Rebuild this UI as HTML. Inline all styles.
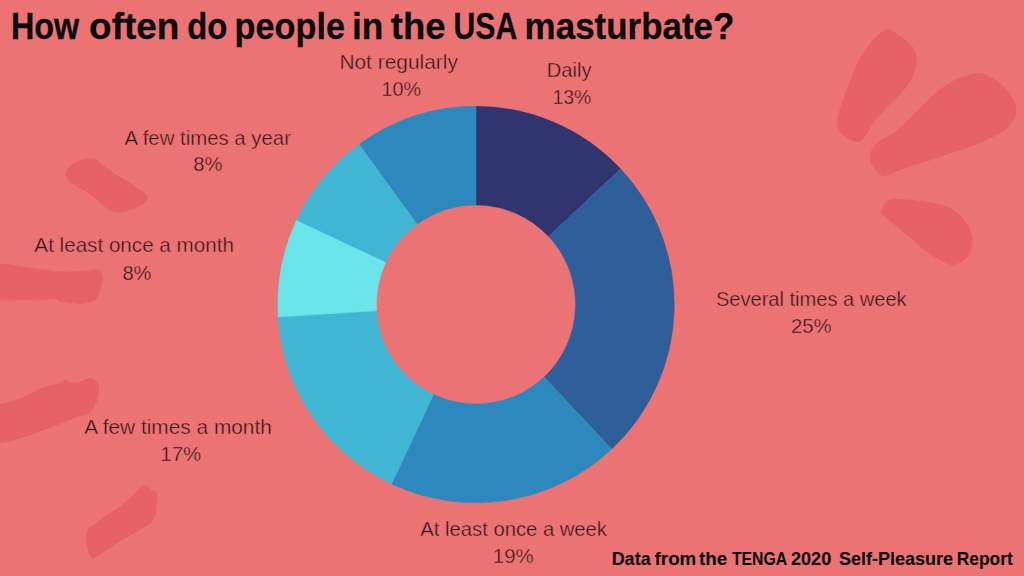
<!DOCTYPE html>
<html><head><meta charset="utf-8"><title>How often do people in the USA masturbate?</title>
<style>html,body{margin:0;padding:0;background:#ec7373;overflow:hidden;}svg{display:block;}text{font-family:"Liberation Sans",sans-serif;}</style>
</head><body>
<svg width="1024" height="576" viewBox="0 0 1024 576">
<rect width="1024" height="576" fill="#ec7373"/>
<path d="M65.3,174.3 C65.1,172.5 65.9,171.2 67.2,169.4 C68.5,167.6 70.8,165.0 73.2,163.4 C75.6,161.8 78.7,160.5 81.7,159.7 C84.8,158.8 89.1,158.3 91.5,158.3 C93.9,158.3 94.3,158.4 96.3,159.7 C98.3,160.9 100.3,163.4 103.6,165.8 C106.8,168.2 111.8,171.7 115.8,174.3 C119.8,176.9 123.9,179.0 127.9,181.6 C132.0,184.2 136.8,187.7 140.1,190.1 C143.3,192.5 146.4,194.4 147.4,196.2 C148.4,198.0 147.3,199.4 146.1,201.0 C144.9,202.6 143.1,204.3 140.1,205.9 C137.1,207.5 132.0,209.7 127.9,210.8 C123.9,211.9 119.8,213.4 115.8,212.6 C111.8,211.8 107.6,208.8 103.6,205.9 C99.5,203.0 95.5,198.0 91.5,195.0 C87.5,192.0 83.1,190.1 79.3,187.7 C75.5,185.3 70.7,182.6 68.4,180.4 C66.1,178.2 65.5,176.1 65.3,174.3Z" fill="#e66168"/>
<path d="M-30.0,264.0 C-25.3,257.9 -8.2,264.6 -2.0,264.6 C4.2,264.6 2.8,263.8 7.0,264.1 C11.2,264.4 16.8,265.4 23.4,266.4 C30.0,267.4 39.1,269.0 46.9,269.9 C54.7,270.8 63.5,271.6 70.3,271.7 C77.1,271.8 83.4,270.9 87.9,270.5 C92.4,270.1 95.2,269.0 97.3,269.3 C99.4,269.6 99.9,270.8 100.8,272.3 C101.7,273.8 102.5,275.4 102.5,278.1 C102.5,280.8 101.9,285.2 100.8,288.7 C99.7,292.2 98.2,296.9 96.1,299.2 C93.9,301.5 90.6,301.9 87.9,302.7 C85.2,303.5 82.6,303.9 79.7,303.9 C76.8,303.9 73.8,303.1 70.3,302.7 C66.8,302.3 60.9,302.2 58.6,301.6 C56.3,301.0 60.2,299.5 56.3,299.2 C52.4,298.9 42.6,299.6 35.2,299.8 C27.8,300.0 17.9,300.3 11.7,300.4 C5.5,300.5 5.0,300.3 -2.0,300.4 C-8.9,300.5 -25.3,307.1 -30.0,301.0 C-34.7,294.9 -34.7,270.1 -30.0,264.0Z" fill="#e66168"/>
<path d="M-30.0,412.0 C-25.3,404.1 -9.3,406.6 -2.0,404.7 C5.3,402.8 8.9,402.2 13.9,400.6 C18.9,399.0 23.2,397.1 27.8,395.0 C32.4,392.9 36.6,390.1 41.7,388.1 C46.8,386.1 54.4,384.6 58.3,383.2 C62.2,381.8 63.4,379.9 65.3,379.7 C67.2,379.5 67.3,381.3 69.4,381.8 C71.5,382.3 74.5,383.1 77.8,382.5 C81.0,381.9 85.9,378.7 88.9,378.3 C91.9,377.9 94.1,378.8 95.8,380.4 C97.5,382.0 98.6,385.2 98.9,388.1 C99.2,391.0 98.7,394.8 97.9,397.8 C97.2,400.8 95.9,403.6 94.4,406.1 C92.9,408.7 91.9,411.2 88.9,413.1 C85.9,415.0 80.8,415.6 76.4,417.2 C72.0,418.8 68.3,420.5 62.5,422.8 C56.7,425.1 48.7,428.6 41.7,431.1 C34.8,433.7 26.6,436.2 20.8,438.1 C15.0,440.0 10.7,441.3 6.9,442.2 C3.1,443.1 4.1,442.0 -2.0,443.6 C-8.1,445.2 -25.3,457.3 -30.0,452.0 C-34.7,446.7 -34.7,419.9 -30.0,412.0Z" fill="#e66168"/>
<path d="M87.5,529.7 C89.1,527.4 92.2,525.8 95.3,523.4 C98.4,521.0 101.9,518.7 106.3,515.6 C110.7,512.5 117.2,508.3 121.9,504.7 C126.6,501.1 131.3,496.8 134.4,493.8 C137.5,490.8 138.8,488.1 140.6,486.7 C142.4,485.3 143.5,484.7 145.3,485.2 C147.1,485.7 149.7,488.4 151.6,489.8 C153.5,491.2 156.2,491.1 157.0,493.8 C157.8,496.6 156.6,502.7 156.3,506.3 C156.1,509.9 156.6,512.8 155.5,515.6 C154.4,518.5 153.0,520.8 150.0,523.4 C147.0,526.0 142.2,528.4 137.5,531.3 C132.8,534.2 127.1,537.5 121.9,540.6 C116.7,543.7 110.7,547.1 106.3,550.0 C101.9,552.9 97.9,556.8 95.3,557.8 C92.7,558.8 92.0,558.1 90.6,556.3 C89.2,554.5 87.5,550.0 86.7,546.9 C85.9,543.8 85.8,540.4 85.9,537.5 C86.0,534.6 85.9,532.1 87.5,529.7Z" fill="#e66168"/>
<path d="M888.2,29.5 C892.0,29.5 896.1,33.6 899.5,35.8 C902.9,38.0 905.9,40.0 908.5,42.6 C911.1,45.2 914.0,47.9 915.3,51.6 C916.6,55.4 917.0,60.6 916.4,65.1 C915.8,69.6 914.3,74.2 911.9,78.7 C909.5,83.2 905.7,87.7 901.7,92.2 C897.8,96.7 892.7,100.9 888.2,105.8 C883.7,110.7 878.4,116.7 874.6,121.6 C870.8,126.5 868.2,131.7 865.6,135.1 C863.0,138.5 861.5,141.2 858.9,141.9 C856.3,142.7 852.8,141.1 849.8,139.6 C846.8,138.1 842.9,135.8 840.8,132.8 C838.7,129.8 837.4,126.1 837.4,121.6 C837.4,117.1 839.1,111.4 840.8,105.8 C842.5,100.2 845.0,94.5 847.6,87.7 C850.2,80.9 853.6,71.5 856.6,65.1 C859.6,58.7 862.2,54.2 865.6,49.3 C869.0,44.4 873.1,39.1 876.9,35.8 C880.7,32.5 884.4,29.5 888.2,29.5Z" fill="#e66168"/>
<path d="M977.1,73.4 C984.3,73.0 989.4,76.7 994.5,79.5 C999.6,82.3 1004.1,86.4 1007.5,90.4 C1010.9,94.4 1013.8,99.1 1015.1,103.4 C1016.4,107.7 1016.4,112.4 1015.1,116.4 C1013.8,120.4 1010.2,124.3 1007.5,127.2 C1004.8,130.1 1003.1,131.3 998.8,133.8 C994.5,136.3 988.4,139.5 981.5,142.4 C974.6,145.3 965.9,148.2 957.6,151.1 C949.3,154.0 940.6,156.9 931.6,159.8 C922.6,162.7 911.4,165.8 903.4,168.5 C895.4,171.2 889.0,176.5 883.9,176.1 C878.8,175.7 875.4,169.8 873.0,166.3 C870.6,162.9 869.1,159.4 869.8,155.4 C870.5,151.4 873.6,146.0 877.4,142.4 C881.2,138.8 887.1,137.8 892.5,133.8 C897.9,129.8 903.8,124.4 909.9,118.6 C916.0,112.8 922.5,105.2 929.4,99.0 C936.3,92.8 943.1,86.0 951.1,81.7 C959.1,77.4 969.9,73.8 977.1,73.4Z" fill="#e66168"/>
<path d="M888.8,199.8 C893.4,198.1 901.8,199.3 909.1,199.8 C916.4,200.3 926.0,201.8 932.5,203.0 C939.0,204.2 943.7,205.0 948.1,206.9 C952.5,208.8 955.7,211.6 959.1,214.7 C962.5,217.8 966.2,221.7 968.4,225.6 C970.6,229.5 972.0,233.7 972.3,238.1 C972.6,242.5 971.7,248.3 970.0,252.2 C968.3,256.1 965.3,259.5 962.2,261.6 C959.1,263.7 954.9,265.0 951.3,264.7 C947.6,264.4 944.7,262.4 940.3,260.0 C935.9,257.6 929.9,254.5 924.7,250.6 C919.5,246.7 914.6,241.3 909.1,236.6 C903.6,231.9 896.3,226.2 891.9,222.5 C887.5,218.8 884.2,216.8 882.5,214.7 C880.8,212.6 880.7,212.5 881.7,210.0 C882.8,207.5 884.2,201.5 888.8,199.8Z" fill="#e66168"/>
<path d="M476.00,106.25 A198.25,198.25 0 0 1 620.52,168.79 L548.57,236.35 A99.55,99.55 0 0 0 476.00,204.95Z" fill="#31356f" stroke="#31356f" stroke-width="0.5" stroke-linejoin="round"/>
<path d="M620.52,168.79 A198.25,198.25 0 0 1 611.71,449.02 L544.15,377.07 A99.55,99.55 0 0 0 548.57,236.35Z" fill="#2e5f9a" stroke="#2e5f9a" stroke-width="0.5" stroke-linejoin="round"/>
<path d="M611.71,449.02 A198.25,198.25 0 0 1 391.59,483.88 L433.61,394.58 A99.55,99.55 0 0 0 544.15,377.07Z" fill="#2d89bd" stroke="#2d89bd" stroke-width="0.5" stroke-linejoin="round"/>
<path d="M391.59,483.88 A198.25,198.25 0 0 1 278.14,316.95 L376.65,310.75 A99.55,99.55 0 0 0 433.61,394.58Z" fill="#41b6d4" stroke="#41b6d4" stroke-width="0.5" stroke-linejoin="round"/>
<path d="M278.14,316.95 A198.25,198.25 0 0 1 296.62,220.09 L385.92,262.11 A99.55,99.55 0 0 0 376.65,310.75Z" fill="#69e5e9" stroke="#69e5e9" stroke-width="0.5" stroke-linejoin="round"/>
<path d="M296.62,220.09 A198.25,198.25 0 0 1 359.47,144.11 L417.49,223.96 A99.55,99.55 0 0 0 385.92,262.11Z" fill="#41b6d4" stroke="#41b6d4" stroke-width="0.5" stroke-linejoin="round"/>
<path d="M359.47,144.11 A198.25,198.25 0 0 1 476.00,106.25 L476.00,204.95 A99.55,99.55 0 0 0 417.49,223.96Z" fill="#2d89bd" stroke="#2d89bd" stroke-width="0.5" stroke-linejoin="round"/>
<text id="L0" x="339.41" y="68.90" font-size="20.60" font-weight="400" fill="#2b1417" textLength="118.48" lengthAdjust="spacingAndGlyphs" stroke="#ec7373" stroke-width="0.4">Not regularly</text>
<text id="L1" x="381.58" y="96.30" font-size="20.60" font-weight="400" fill="#2b1417" textLength="39.60" lengthAdjust="spacingAndGlyphs" stroke="#ec7373" stroke-width="0.4">10%</text>
<text id="L2" x="546.72" y="76.60" font-size="20.60" font-weight="400" fill="#2b1417" textLength="44.75" lengthAdjust="spacingAndGlyphs" stroke="#ec7373" stroke-width="0.4">Daily</text>
<text id="L3" x="552.41" y="104.20" font-size="20.60" font-weight="400" fill="#2b1417" textLength="39.02" lengthAdjust="spacingAndGlyphs" stroke="#ec7373" stroke-width="0.4">13%</text>
<text id="L4" x="124.60" y="144.50" font-size="20.60" font-weight="400" fill="#2b1417" textLength="166.33" lengthAdjust="spacingAndGlyphs" stroke="#ec7373" stroke-width="0.4">A few times a year</text>
<text id="L5" x="193.21" y="171.40" font-size="20.60" font-weight="400" fill="#2b1417" textLength="29.09" lengthAdjust="spacingAndGlyphs" stroke="#ec7373" stroke-width="0.4">8%</text>
<text id="L6" x="34.38" y="252.40" font-size="20.60" font-weight="400" fill="#2b1417" textLength="199.50" lengthAdjust="spacingAndGlyphs" stroke="#ec7373" stroke-width="0.4">At least once a month</text>
<text id="L7" x="122.47" y="280.00" font-size="20.60" font-weight="400" fill="#2b1417" textLength="28.99" lengthAdjust="spacingAndGlyphs" stroke="#ec7373" stroke-width="0.4">8%</text>
<text id="L8" x="84.20" y="433.60" font-size="20.60" font-weight="400" fill="#2b1417" textLength="187.66" lengthAdjust="spacingAndGlyphs" stroke="#ec7373" stroke-width="0.4">A few times a month</text>
<text id="L9" x="160.33" y="460.90" font-size="20.60" font-weight="400" fill="#2b1417" textLength="41.01" lengthAdjust="spacingAndGlyphs" stroke="#ec7373" stroke-width="0.4">17%</text>
<text id="L10" x="420.37" y="536.20" font-size="20.60" font-weight="400" fill="#2b1417" textLength="186.62" lengthAdjust="spacingAndGlyphs" stroke="#ec7373" stroke-width="0.4">At least once a week</text>
<text id="L11" x="492.87" y="563.00" font-size="20.60" font-weight="400" fill="#2b1417" textLength="40.69" lengthAdjust="spacingAndGlyphs" stroke="#ec7373" stroke-width="0.4">19%</text>
<text id="L12" x="715.89" y="305.80" font-size="20.60" font-weight="400" fill="#2b1417" textLength="190.78" lengthAdjust="spacingAndGlyphs" stroke="#ec7373" stroke-width="0.4">Several times a week</text>
<text id="L13" x="790.93" y="333.10" font-size="20.60" font-weight="400" fill="#2b1417" textLength="40.63" lengthAdjust="spacingAndGlyphs" stroke="#ec7373" stroke-width="0.4">25%</text>
<text id="T0" x="11.01" y="39.40" font-size="37.40" font-weight="700" fill="#0a0a0a" textLength="68.27" lengthAdjust="spacingAndGlyphs" stroke="#0a0a0a" stroke-width="0.3">How</text>
<text id="T1" x="89.06" y="39.40" font-size="37.40" font-weight="700" fill="#0a0a0a" textLength="90.42" lengthAdjust="spacingAndGlyphs" stroke="#0a0a0a" stroke-width="0.3">often</text>
<text id="T2" x="187.30" y="39.40" font-size="37.40" font-weight="700" fill="#0a0a0a" textLength="40.09" lengthAdjust="spacingAndGlyphs" stroke="#0a0a0a" stroke-width="0.3">do</text>
<text id="T3" x="234.59" y="39.40" font-size="37.40" font-weight="700" fill="#0a0a0a" textLength="110.37" lengthAdjust="spacingAndGlyphs" stroke="#0a0a0a" stroke-width="0.3">people</text>
<text id="T4" x="351.88" y="39.40" font-size="37.40" font-weight="700" fill="#0a0a0a" textLength="31.34" lengthAdjust="spacingAndGlyphs" stroke="#0a0a0a" stroke-width="0.3">in</text>
<text id="T5" x="390.81" y="39.40" font-size="37.40" font-weight="700" fill="#0a0a0a" textLength="54.77" lengthAdjust="spacingAndGlyphs" stroke="#0a0a0a" stroke-width="0.3">the</text>
<text id="T6" x="453.55" y="39.40" font-size="37.40" font-weight="700" fill="#0a0a0a" textLength="63.78" lengthAdjust="spacingAndGlyphs" stroke="#0a0a0a" stroke-width="0.3">USA</text>
<text id="T7" x="524.61" y="39.40" font-size="37.40" font-weight="700" fill="#0a0a0a" textLength="209.79" lengthAdjust="spacingAndGlyphs" stroke="#0a0a0a" stroke-width="0.3">masturbate?</text>
<text id="F0" x="611.63" y="564.50" font-size="17.90" font-weight="700" fill="#0a0a0a" textLength="39.02" lengthAdjust="spacingAndGlyphs" stroke="#0a0a0a" stroke-width="0.1">Data</text>
<text id="F1" x="654.63" y="564.50" font-size="17.90" font-weight="700" fill="#0a0a0a" textLength="41.63" lengthAdjust="spacingAndGlyphs" stroke="#0a0a0a" stroke-width="0.1">from</text>
<text id="F2" x="699.12" y="564.50" font-size="17.90" font-weight="700" fill="#0a0a0a" textLength="28.12" lengthAdjust="spacingAndGlyphs" stroke="#0a0a0a" stroke-width="0.1">the</text>
<text id="F3" x="731.90" y="564.50" font-size="17.90" font-weight="700" fill="#0a0a0a" textLength="55.27" lengthAdjust="spacingAndGlyphs" stroke="#0a0a0a" stroke-width="0.1">TENGA</text>
<text id="F4" x="790.92" y="564.50" font-size="17.90" font-weight="700" fill="#0a0a0a" textLength="40.34" lengthAdjust="spacingAndGlyphs" stroke="#0a0a0a" stroke-width="0.1">2020</text>
<text id="F5" x="838.95" y="564.50" font-size="17.90" font-weight="700" fill="#0a0a0a" textLength="114.20" lengthAdjust="spacingAndGlyphs" stroke="#0a0a0a" stroke-width="0.1">Self-Pleasure</text>
<text id="F6" x="956.85" y="564.50" font-size="17.90" font-weight="700" fill="#0a0a0a" textLength="55.88" lengthAdjust="spacingAndGlyphs" stroke="#0a0a0a" stroke-width="0.1">Report</text>
</svg>
</body></html>
